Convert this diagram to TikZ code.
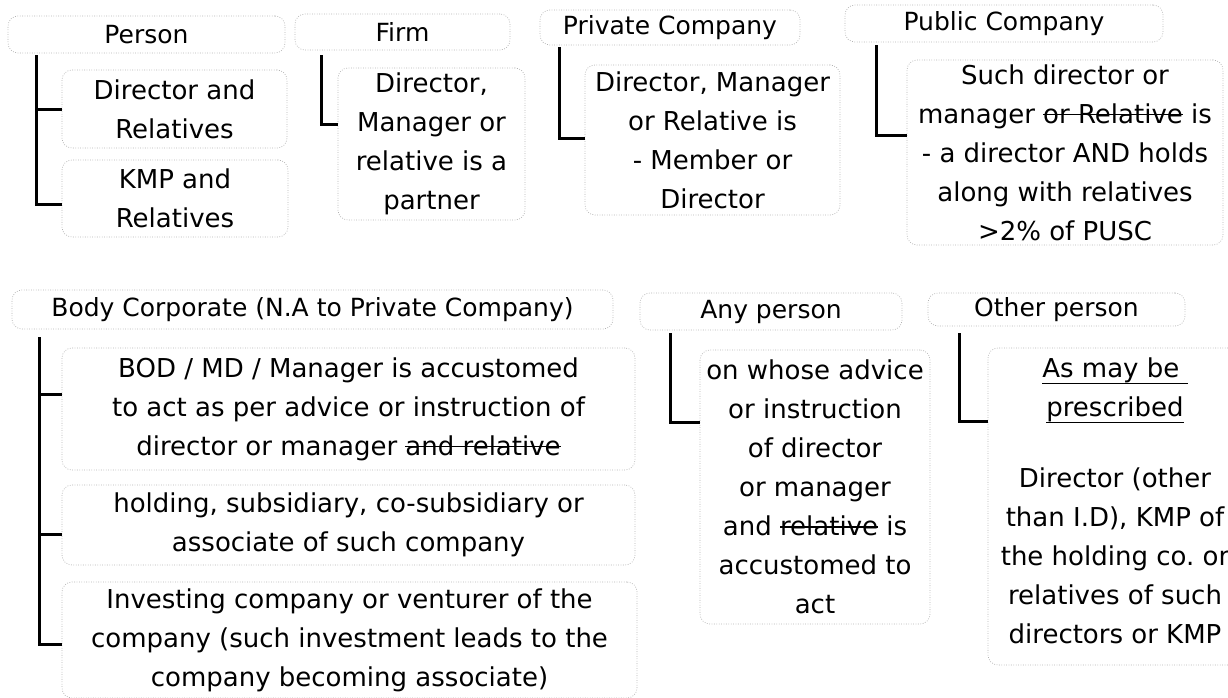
\documentclass[tikz,border=0pt]{standalone}
\usepackage{fontspec}
\setmainfont{DejaVu Sans}
\usetikzlibrary{positioning}

\newsavebox\markbox
\newcommand\strk[1]{\sbox\markbox{#1}\rlap{\rule[0.3em]{\wd\markbox}{1.5pt}}\usebox\markbox}
\newcommand\undl[1]{\sbox\markbox{#1}\rlap{\rule[-0.25em]{\wd\markbox}{1.6pt}}\usebox\markbox}

\tikzset{
    box/.style={draw=gray!60, line width=0.7pt, dash pattern=on 0.8pt off 1.6pt, rounded corners=10pt, inner sep=0pt, align=center},
    hdr/.style={box, font=\fontsize{25}{39}\selectfont},
    item/.style={box, font=\fontsize{26}{39}\selectfont},
    txt/.style={align=center, inner sep=0pt, font=\fontsize{26}{39}\selectfont},
    tree/.style={line width=2.6pt}
}

\begin{document}
\begin{tikzpicture}[x=1pt, y=-1pt]
\useasboundingbox (0,0) rectangle (1228,698);
\clip (0,0) rectangle (1228,698);

% Top row
\node[hdr, minimum width=277pt, minimum height=37pt] (person) at (146.5,34.5) {Person};
\node[hdr, minimum width=215pt, minimum height=36pt] (firm) at (402.5,32) {Firm};
\node[hdr, minimum width=260pt, minimum height=35pt] (privco) at (670,27.5) {Private Company};
\node[hdr, minimum width=318pt, minimum height=37pt] (pubco) at (1004,23.5) {Public Company};

\node[item, minimum width=225pt, minimum height=78pt] (dirrel) at (174.5,109) {Director and\\Relatives};
\node[item, minimum width=226pt, minimum height=77pt] (kmprel) at (175,198.5) {KMP and\\Relatives};
\node[item, minimum width=187pt, minimum height=152pt] (firmpt) at (431.5,144) {Director,\\Manager or\\relative is a\\partner};
\node[item, minimum width=255pt, minimum height=150pt] (privmd) at (712.5,140) {Director, Manager\\or Relative is\\- Member or\\Director};
\node[item, minimum width=316pt, minimum height=185pt] (pubdir) at (1065,152.5) {Such director or\\manager \strk{or Relative} is\\- a director AND holds\\along with relatives\\>2\% of PUSC};

% Bottom row
\node[hdr, minimum width=601pt, minimum height=39pt] (bodyco) at (312.5,309.5) {Body Corporate (N.A to Private Company)};
\node[item, minimum width=573pt, minimum height=122pt] (bod) at (348.5,409) {BOD / MD / Manager is accustomed\\to act as per advice or instruction of\\director or manager \strk{and relative}};
\node[item, minimum width=573pt, minimum height=80pt] (hold) at (348.5,525) {holding, subsidiary, co-subsidiary or\\associate of such company};
\node[item, minimum width=575pt, minimum height=116pt] (invest) at (349.5,640) {Investing company or venturer of the\\company (such investment leads to the\\company becoming associate)};

\node[hdr, minimum width=262pt, minimum height=37pt] (anyp) at (771,311.5) {Any person};
\node[item, minimum width=230pt, minimum height=274pt] (anyadv) at (815,487) {on whose advice\\or instruction\\of director\\or manager\\and \strk{relative} is\\accustomed to\\act};

\node[hdr, minimum width=257pt, minimum height=33pt] (other) at (1056.5,309.5) {Other person};
\node[box, minimum width=262pt, minimum height=317pt] (othbox) at (1119,506.5) {};
\node[txt] (othtxt) at (1115,501) {\undl{As may be~}\\\undl{prescribed}\\[32pt]Director (other\\than I.D), KMP of\\the holding co.\ or\\relatives of such\\directors or KMP};

% Connectors
\draw[tree] ([xshift=29pt,yshift=-2pt]person.south west) |- ([yshift=-40pt]dirrel.north west);
\draw[tree] ([xshift=29pt,yshift=-2pt]person.south west) |- ([yshift=-45pt]kmprel.north west);
\draw[tree] ([xshift=27pt,yshift=-5pt]firm.south west) |- ([yshift=-57pt]firmpt.north west);
\draw[tree] ([xshift=20pt,yshift=-2pt]privco.south west) |- ([yshift=-74pt]privmd.north west);
\draw[tree] ([xshift=32pt,yshift=-3pt]pubco.south west) |- ([yshift=-76pt]pubdir.north west);
\draw[tree] ([xshift=28pt,yshift=-8pt]bodyco.south west) |- ([yshift=-47pt]bod.north west);
\draw[tree] ([xshift=28pt,yshift=-8pt]bodyco.south west) |- ([yshift=-50pt]hold.north west);
\draw[tree] ([xshift=28pt,yshift=-8pt]bodyco.south west) |- ([yshift=-63pt]invest.north west);
\draw[tree] ([xshift=31pt,yshift=-3pt]anyp.south west) |- ([yshift=-73pt]anyadv.north west);
\draw[tree] ([xshift=32pt,yshift=-7pt]other.south west) |- ([yshift=-74pt]othbox.north west);
\end{tikzpicture}
\end{document}
